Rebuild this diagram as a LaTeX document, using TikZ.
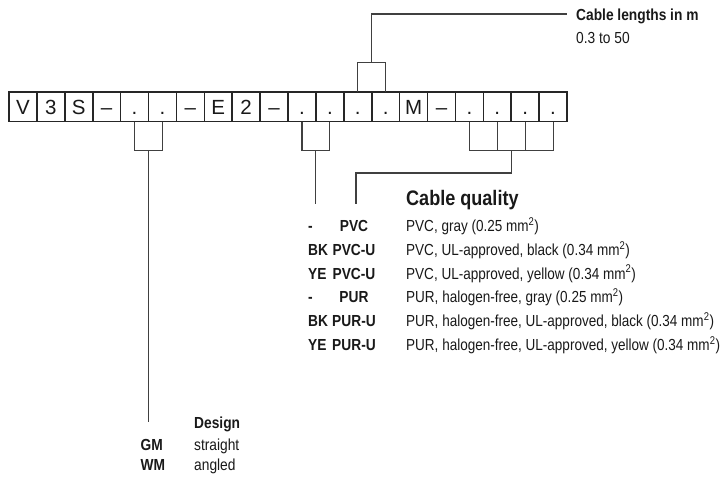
\documentclass[tikz,border=0pt]{standalone}
\usepackage{fontspec}
\setmainfont{Liberation Sans}
\newfontfamily\condfont[FakeStretch=0.86]{Liberation Sans}
\newfontfamily\descfont[FakeStretch=0.845]{Liberation Sans}
\usetikzlibrary{calc}
\begin{document}
\begin{tikzpicture}[x=1pt,y=-1pt,
  cell/.style={draw=black!85,line width=1.6pt,minimum width=27.9pt,minimum height=29.5pt,
    inner sep=0pt,outer sep=0pt,text height=14.6pt,text depth=0pt,
    font=\fontsize{20.5}{20}\selectfont,text=black!90},
  conn/.style={draw=black!75,line width=1.1pt},
  lbl/.style={anchor=base west,inner sep=0pt,font=\condfont\fontsize{16}{18}\selectfont,text=black!90},
  dlbl/.style={anchor=base west,inner sep=0pt,font=\descfont\fontsize{16}{18}\selectfont,text=black!90},
  blbl/.style={anchor=base west,inner sep=0pt,font=\condfont\fontsize{16}{18}\selectfont\bfseries,text=black!90},
  bcode/.style={anchor=base,inner sep=0pt,font=\condfont\fontsize{16}{18}\selectfont\bfseries,text=black!90},
  head/.style={anchor=base west,inner sep=0pt,font=\condfont\fontsize{21}{24}\selectfont\bfseries,text=black!90}]
\useasboundingbox (0,0) rectangle (722,477);
% code cells
\foreach \t [count=\i] in {V,3,S,{–},{.},{.},{–},E,2,{–},{.},{.},{.},{.},M,{–},{.},{.},{.},{.}}
  \node[cell] (c\i) at ({9+(\i-0.5)*27.9},106.8) {\t};

% cable lengths bracket (cells 13,14)
\coordinate (tj) at ($(c13.north)!0.5!(c14.north)+(0,-30)$);
\coordinate (tend) at (567,14);
\draw[conn] (c13.north) |- (tj) -| (c14.north);
\draw[conn] (tj) |- (tend);
\node[blbl] (lenh) at (576,20.7) {Cable lengths in m};
\node[lbl] (lenv) at (576,43) {0.3 to 50};

% design bracket (cells 5,6)
\coordinate (dj) at ($(c5.south)!0.5!(c6.south)+(0,28.5)$);
\coordinate (dend) at ($(dj)+(0,272)$);
\draw[conn] (c5.south) |- (dj) -| (c6.south);
\draw[conn] (dj) -- (dend);

% cable quality brackets
\coordinate (qa) at ($(c11.south)!0.5!(c12.south)+(0,28.5)$);
\coordinate (qaend) at ($(qa)+(0,54)$);
\draw[conn] (c11.south) |- (qa) -| (c12.south);
\draw[conn] (qa) -- (qaend);

\coordinate (qb) at ($(c17.south)!0.5!(c20.south)+(0,28.5)$);
\coordinate (qbk) at (356,173);
\coordinate (qbend) at (356,204);
\draw[conn] (c17.south) |- (qb) -| (c20.south);
\draw[conn] (c18.south) -- (c18.south |- qb);
\draw[conn] (c19.south) -- (c19.south |- qb);
\draw[conn] (qb) |- (qbk) -- (qbend);

% cable quality table
\node[head] (qh) at (406,205) {Cable quality};
\foreach \a/\b/\d [count=\k] in {
  -/PVC/{PVC, gray (0.25 mm\textsuperscript{2})},
  BK/PVC-U/{PVC, UL-approved, black (0.34 mm\textsuperscript{2})},
  YE/PVC-U/{PVC, UL-approved, yellow (0.34 mm\textsuperscript{2})},
  -/PUR/{PUR, halogen-free, gray (0.25 mm\textsuperscript{2})},
  BK/PUR-U/{PUR, halogen-free, UL-approved, black (0.34 mm\textsuperscript{2})},
  YE/PUR-U/{PUR, halogen-free, UL-approved, yellow (0.34 mm\textsuperscript{2})}}
{
  \node[blbl] (qc\k) at (308,{231.5+23.8*(\k-1)}) {\a};
  \node[bcode] (qm\k) at (354,{231.5+23.8*(\k-1)}) {\b};
  \node[dlbl] (qd\k) at (406,{231.5+23.8*(\k-1)}) {\d};
}

% design table
\node[blbl] (dh) at (194,428) {Design};
\node[blbl] (dg) at (140.5,450) {GM};
\node[lbl] (dgs) at (194,450) {straight};
\node[blbl] (dw) at (140.5,470.5) {WM};
\node[lbl] (dws) at (194,470.5) {angled};
\end{tikzpicture}
\end{document}
